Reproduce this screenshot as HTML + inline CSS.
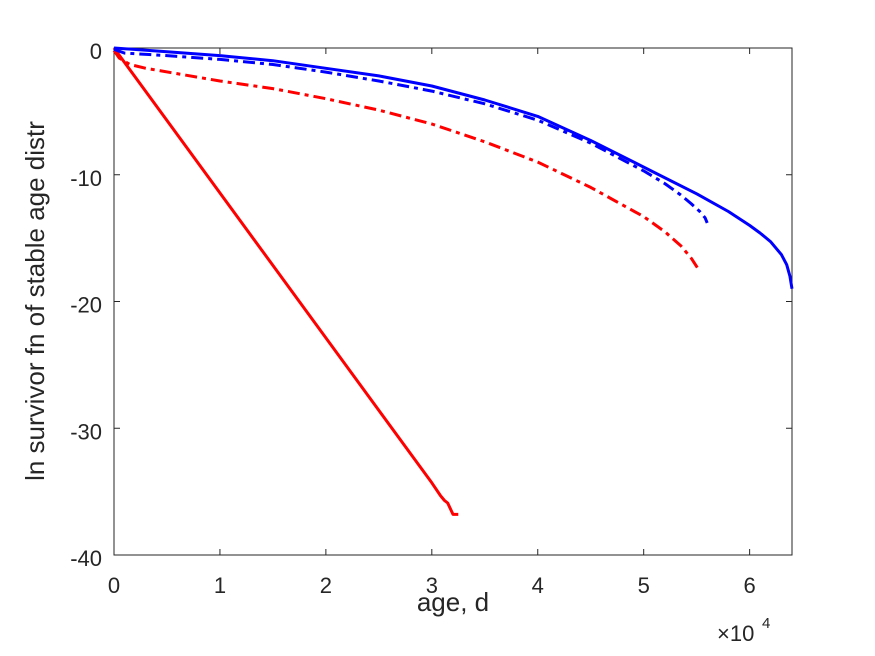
<!DOCTYPE html>
<html><head><meta charset="utf-8"><style>
body{margin:0;background:#fff;font-family:"Liberation Sans",sans-serif}
</style></head><body>
<svg width="875" height="656" id="chart" style="display:block"></svg>
<script>
const xTicks=[0,1,2,3,4,5,6];
const yTicks=[0,-10,-20,-30,-40];
const blueSolidX=[0,0.5,1,1.5,2,2.5,3,3.5,4,4.5,5,5.5,5.8,6,6.1,6.2,6.3,6.35,6.38,6.4];
const blueSolidY=[0,-0.3,-0.6,-1.0,-1.6,-2.2,-3,-4.1,-5.4,-7.3,-9.4,-11.5,-12.9,-14,-14.6,-15.3,-16.3,-17.1,-18,-19];
const blueDashX=[0,0.1,0.5,1,1.5,2,2.5,3,3.5,4,4.5,5,5.2,5.35,5.45,5.53,5.58,5.6];
const blueDashY=[-0.1,-0.4,-0.6,-0.9,-1.3,-1.9,-2.6,-3.4,-4.4,-5.7,-7.5,-9.7,-10.7,-11.6,-12.3,-12.9,-13.4,-13.8];
const redDashX=[0,0.05,0.15,0.3,1,1.5,2,2.5,3,3.5,4,4.5,5,5.2,5.35,5.45,5.52];
const redDashY=[-0.2,-0.8,-1.3,-1.6,-2.6,-3.2,-4,-4.9,-6,-7.4,-9,-11,-13.3,-14.5,-15.6,-16.6,-17.5];
const redSolidX=[0,3.0,3.08,3.12,3.15,3.2,3.25];
const redSolidY=[0,-34.3,-35.3,-35.7,-35.9,-36.8,-36.8];
const L=114,R=792,T=48,B=555;
const sx=v=>L+(v/6.4)*(R-L);
const sy=v=>T+(-v/40)*(B-T);
const svg=document.getElementById('chart');
const NS='http://www.w3.org/2000/svg';
function mk(tag,attrs,name){const e=document.createElementNS(NS,tag);for(const k in attrs)e.setAttribute(k,attrs[k]);


svg.appendChild(e);return e;}
mk('rect',{x:L,y:T,width:R-L,height:B-T,fill:'#fff',stroke:'#262626','stroke-width':1},'plot-area');
xTicks.forEach(t=>{const x=sx(t);
mk('line',{x1:x,x2:x,y1:B,y2:B-6,stroke:'#262626'},'x-tick');
mk('line',{x1:x,x2:x,y1:T,y2:T+6,stroke:'#262626'},'x-tick-top');
const tx=mk('text',{x:x,y:B+38,'text-anchor':'middle','font-size':22,fill:'#262626'},'x-tick-label');tx.textContent=t;});
yTicks.forEach(t=>{const y=sy(t);
mk('line',{x1:L,x2:L+6,y1:y,y2:y,stroke:'#262626'},'y-tick');
mk('line',{x1:R,x2:R-6,y1:y,y2:y,stroke:'#262626'},'y-tick-right');
const tx=mk('text',{x:L-12,y:y+11,'text-anchor':'end','font-size':22,fill:'#262626'},'y-tick-label');tx.textContent=t;});
function line(xs,ys,color,dash,name){const d=xs.map((v,i)=>(i?'L':'M')+sx(v).toFixed(1)+','+sy(ys[i]).toFixed(1)).join('');
const a={d:d,fill:'none',stroke:color,'stroke-width':3,'stroke-linejoin':'round'};if(dash)a['stroke-dasharray']=dash;mk('path',a,name);}
line(redSolidX,redSolidY,'#ff0000',null,'red-solid-line');
line(redDashX,redDashY,'#ff0000','12,5,4,5','red-dashdot-line');
line(blueDashX,blueDashY,'#0000ff','12,5,4,5','blue-dashdot-line');
line(blueSolidX,blueSolidY,'#0000ff',null,'blue-solid-line');
let t=mk('text',{x:453,y:611,'text-anchor':'middle','font-size':26,fill:'#262626'},'x-axis-title');t.textContent='age, d';
t=mk('text',{x:0,y:0,'text-anchor':'middle','font-size':26,fill:'#262626',transform:'translate(44,301) rotate(-90)'},'y-axis-title');t.textContent='ln survivor fn of stable age distr';
t=mk('text',{x:717,y:641,'font-size':22,fill:'#262626'},'x-exponent-label');t.textContent='×10';
t=mk('text',{x:762,y:628,'font-size':15,fill:'#262626'},'x-exponent-power');t.textContent='4';
</script>
</body></html>
